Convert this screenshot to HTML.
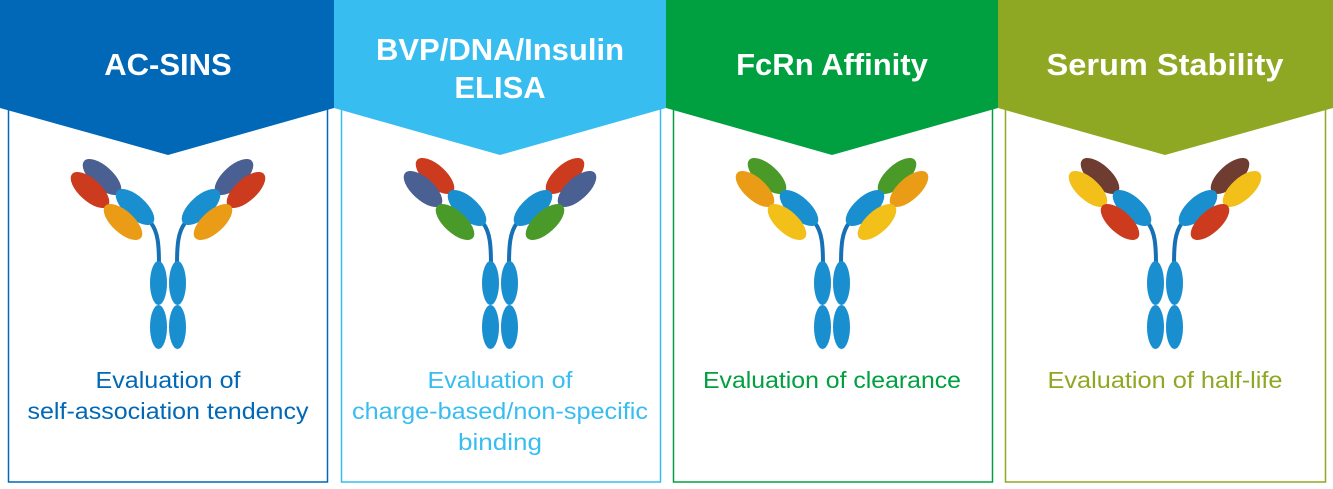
<!DOCTYPE html>
<html><head><meta charset="utf-8"><style>
body{margin:0;background:#fff;width:1333px;height:489px;overflow:hidden}
svg{display:block}
text{font-family:"Liberation Sans",sans-serif}
</style></head><body>
<svg width="1333" height="489" viewBox="0 0 1333 489" xmlns="http://www.w3.org/2000/svg">
<defs>
<symbol id="stem" overflow="visible">
<path d="M-17,223 C-10,232 -9,245 -9,265" stroke="#1670b5" stroke-width="4" fill="none"/>
<path d="M17,223 C10,232 9,245 9,265" stroke="#1670b5" stroke-width="4" fill="none"/>
<ellipse cx="-9.5" cy="283" rx="8.5" ry="22" fill="#1a8fd0"/>
<ellipse cx="9.5" cy="283" rx="8.5" ry="22" fill="#1a8fd0"/>
<ellipse cx="-9.5" cy="327" rx="8.5" ry="22" fill="#1a8fd0"/>
<ellipse cx="9.5" cy="327" rx="8.5" ry="22" fill="#1a8fd0"/>
</symbol>
</defs>

<rect x="8.5" y="100" width="319" height="382" fill="none" stroke="#0068b7" stroke-width="1.5"/>
<rect x="341.5" y="100" width="319" height="382" fill="none" stroke="#38bdf0" stroke-width="1.5"/>
<rect x="673.5" y="100" width="319" height="382" fill="none" stroke="#00a040" stroke-width="1.5"/>
<rect x="1005.5" y="100" width="320" height="382" fill="none" stroke="#8fa823" stroke-width="1.5"/>

<polygon points="0,0 334,0 334,108 168,155 0,108" fill="#0068b7"/>
<polygon points="334,0 666,0 666,108 500,155 334,108" fill="#38bdf0"/>
<polygon points="666,0 998,0 998,108 832,155 666,108" fill="#00a040"/>
<polygon points="998,0 1333,0 1333,108 1165,155 998,108" fill="#8fa823"/>

<g fill="#fff" font-weight="bold" font-size="31" text-anchor="middle">
<text x="168" y="75">AC-SINS</text>
<text x="500" y="60">BVP/DNA/Insulin</text>
<text x="500" y="98">ELISA</text>
<text x="832" y="75">FcRn Affinity</text>
<text x="1165" y="75" textLength="237" lengthAdjust="spacingAndGlyphs">Serum Stability</text>
</g>

<g transform="translate(168,0)">
<use href="#stem"/>
<g id="a1">
<ellipse cx="-66" cy="177" rx="24" ry="11" fill="#4a5f92" transform="rotate(42 -66 177)"/>
<ellipse cx="-78" cy="190" rx="24" ry="11" fill="#cc3b1e" transform="rotate(42 -78 190)"/>
<ellipse cx="-33" cy="207" rx="24" ry="11" fill="#1a8fd0" transform="rotate(42 -33 207)"/>
<ellipse cx="-45" cy="222" rx="24" ry="11" fill="#eb9c16" transform="rotate(42 -45 222)"/>
</g>
<use href="#a1" transform="scale(-1,1)"/>
</g>
<g transform="translate(500,0)">
<use href="#stem"/>
<g id="a2">
<ellipse cx="-65" cy="176" rx="24" ry="11" fill="#cc3b1e" transform="rotate(42 -65 176)"/>
<ellipse cx="-77" cy="189" rx="24" ry="11" fill="#4a5f92" transform="rotate(42 -77 189)"/>
<ellipse cx="-33" cy="208" rx="24" ry="11" fill="#1a8fd0" transform="rotate(42 -33 208)"/>
<ellipse cx="-45" cy="222" rx="24" ry="11" fill="#4a9a2a" transform="rotate(42 -45 222)"/>
</g>
<use href="#a2" transform="scale(-1,1)"/>
</g>
<g transform="translate(832,0)">
<use href="#stem"/>
<g id="a3">
<ellipse cx="-65" cy="176" rx="24" ry="11" fill="#4a9a2a" transform="rotate(42 -65 176)"/>
<ellipse cx="-77" cy="189" rx="24" ry="11" fill="#eb9c16" transform="rotate(42 -77 189)"/>
<ellipse cx="-33" cy="208" rx="24" ry="11" fill="#1a8fd0" transform="rotate(42 -33 208)"/>
<ellipse cx="-45" cy="222" rx="24" ry="11" fill="#f2c018" transform="rotate(42 -45 222)"/>
</g>
<use href="#a3" transform="scale(-1,1)"/>
</g>
<g transform="translate(1165,0)">
<use href="#stem"/>
<g id="a4">
<ellipse cx="-65" cy="176" rx="24" ry="11" fill="#6e3c30" transform="rotate(42 -65 176)"/>
<ellipse cx="-77" cy="189" rx="24" ry="11" fill="#f2c018" transform="rotate(42 -77 189)"/>
<ellipse cx="-33" cy="208" rx="24" ry="11" fill="#1a8fd0" transform="rotate(42 -33 208)"/>
<ellipse cx="-45" cy="222" rx="24" ry="11" fill="#cc3b1e" transform="rotate(42 -45 222)"/>
</g>
<use href="#a4" transform="scale(-1,1)"/>
</g>

<g font-size="23" text-anchor="middle">
<text x="168" y="388" fill="#0068b7" textLength="145" lengthAdjust="spacingAndGlyphs">Evaluation of</text>
<text x="168" y="419" fill="#0068b7" textLength="281" lengthAdjust="spacingAndGlyphs">self-association tendency</text>
<text x="500" y="388" fill="#38bdf0" textLength="145" lengthAdjust="spacingAndGlyphs">Evaluation of</text>
<text x="500" y="419" fill="#38bdf0" textLength="296" lengthAdjust="spacingAndGlyphs">charge-based/non-specific</text>
<text x="500" y="450" fill="#38bdf0" textLength="84" lengthAdjust="spacingAndGlyphs">binding</text>
<text x="832" y="388" fill="#00a040" textLength="258" lengthAdjust="spacingAndGlyphs">Evaluation of clearance</text>
<text x="1165" y="388" fill="#8fa823" textLength="235" lengthAdjust="spacingAndGlyphs">Evaluation of half-life</text>
</g>
</svg>
</body></html>
